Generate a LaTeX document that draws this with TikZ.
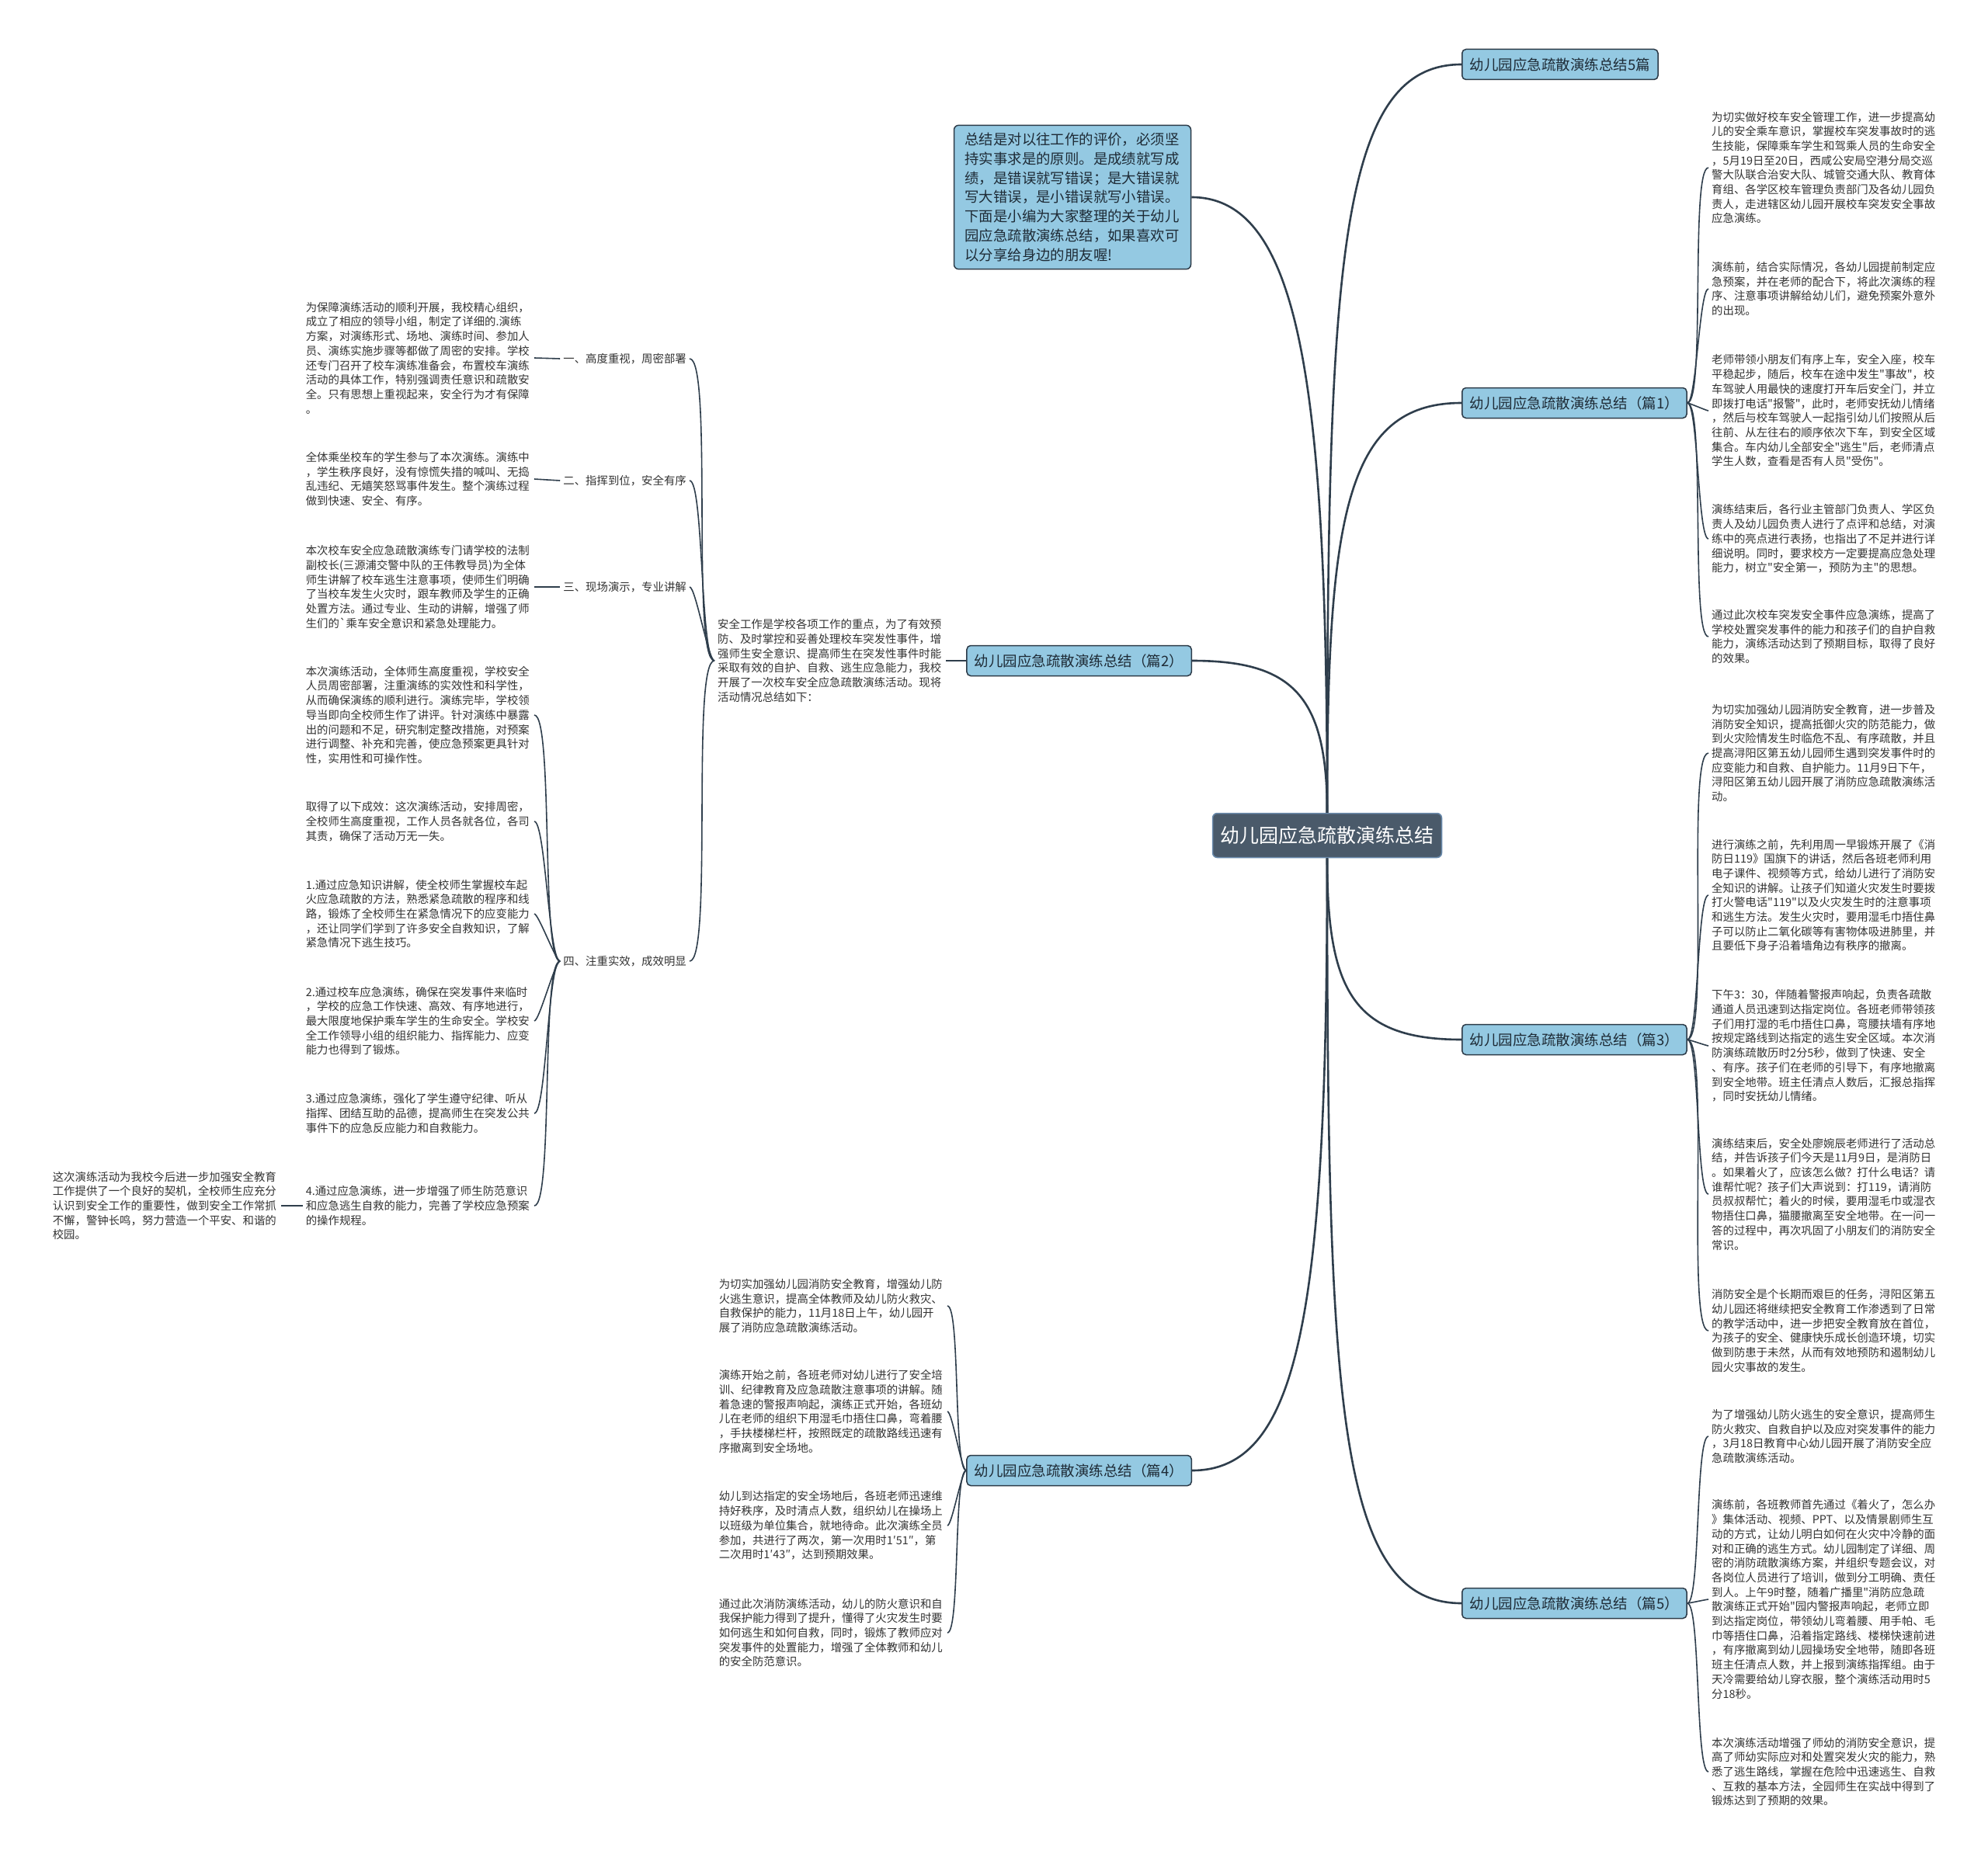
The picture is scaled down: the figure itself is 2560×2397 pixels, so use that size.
\documentclass[tikz,border=0pt]{standalone}
\usepackage{fontspec}
\newfontfamily\cjk{Noto Sans CJK SC}
\definecolor{linec}{HTML}{2F3E4C}
\definecolor{boxfill}{HTML}{94C9E2}
\definecolor{boxborder}{HTML}{2C3A47}
\definecolor{boxtext}{HTML}{1E2B36}
\definecolor{centerfill}{HTML}{4A5A6A}
\definecolor{centerborder}{HTML}{6B8CAE}
\definecolor{leaftext}{HTML}{333333}
\tikzset{
  conn/.style={draw=linec, line width=2.6pt},
  leafconn/.style={draw=linec, line width=1.6pt},
  leaf/.style={font=\cjk\fontsize{14.4}{18.7}\selectfont, text=leaftext, align=left, text width=290pt, inner xsep=4pt, inner ysep=2pt},
  rleaf/.style={leaf, anchor=west},
  lleaf/.style={leaf, anchor=east},
  lab/.style={font=\cjk\fontsize{14.4}{18.7}\selectfont, text=leaftext, anchor=east, inner xsep=4pt, inner ysep=2pt},
  branch/.style={draw=boxborder, line width=1.5pt, fill=boxfill, rounded corners=5pt, font=\cjk\fontsize{18.5}{22}\selectfont, text=boxtext, minimum height=39pt, inner xsep=10pt},
  central/.style={draw=centerborder, line width=1.5pt, fill=centerfill, rounded corners=6pt, font=\cjk\fontsize{25}{30}\selectfont, text=white, minimum width=295pt, minimum height=57pt},
  introbox/.style={draw=boxborder, line width=1.5pt, fill=boxfill, rounded corners=6pt, font=\cjk\fontsize{18.4}{24.7}\selectfont, text=boxtext, align=left, text width=277pt, inner xsep=14pt, inner ysep=10pt}
}
\begin{document}
\begin{tikzpicture}[x=1pt,y=-1pt]
\useasboundingbox[fill=white] (0,0) rectangle (2560,2397);

% central and branches
\node[central] (c) at (1709,1076) {幼儿园应急疏散演练总结};
\node[introbox] (intro) at (1381,254) {总结是对以往工作的评价，必须坚\\持实事求是的原则。是成绩就写成\\绩，是错误就写错误；是大错误就\\写大错误，是小错误就写小错误。\\下面是小编为大家整理的关于幼儿\\园应急疏散演练总结，如果喜欢可\\以分享给身边的朋友喔!};
\node[branch, anchor=west] (b0) at (1882,83) {幼儿园应急疏散演练总结5篇};
\node[branch, anchor=west] (b1) at (1882,519) {幼儿园应急疏散演练总结（篇1）};
\node[branch, anchor=east] (b2) at (1535,851) {幼儿园应急疏散演练总结（篇2）};
\node[branch, anchor=west] (b3) at (1882,1339) {幼儿园应急疏散演练总结（篇3）};
\node[branch, anchor=east] (b4) at (1535,1894) {幼儿园应急疏散演练总结（篇4）};
\node[branch, anchor=west] (b5) at (1882,2065) {幼儿园应急疏散演练总结（篇5）};

\draw[conn] (c.north) .. controls +(0,-700) and +(-160,0) .. (b0.west);
\draw[conn] (c.north) .. controls +(0,-550) and +(140,0) .. (intro.east);
\draw[conn] (c.north) .. controls +(0,-380) and +(-150,0) .. (b1.west);
\draw[conn] (c.north) .. controls +(0,-150) and +(130,0) .. (b2.east);
\draw[conn] (c.south) .. controls +(0,170) and +(-140,0) .. (b3.west);
\draw[conn] (c.south) .. controls +(0,580) and +(140,0) .. (b4.east);
\draw[conn] (c.south) .. controls +(0,700) and +(-160,0) .. (b5.west);

% Part 1 leaves
\node[rleaf] (r11) at (2200,216) {为切实做好校车安全管理工作，进一步提高幼\\儿的安全乘车意识，掌握校车突发事故时的逃\\生技能，保障乘车学生和驾乘人员的生命安全\\，5月19日至20日，西咸公安局空港分局交巡\\警大队联合治安大队、城管交通大队、教育体\\育组、各学区校车管理负责部门及各幼儿园负\\责人，走进辖区幼儿园开展校车突发安全事故\\应急演练。};
\node[rleaf] (r12) at (2200,372) {演练前，结合实际情况，各幼儿园提前制定应\\急预案，并在老师的配合下，将此次演练的程\\序、注意事项讲解给幼儿们，避免预案外意外\\的出现。};
\node[rleaf] (r13) at (2200,529) {老师带领小朋友们有序上车，安全入座，校车\\平稳起步，随后，校车在途中发生"事故"，校\\车驾驶人用最快的速度打开车后安全门，并立\\即拨打电话"报警"，此时，老师安抚幼儿情绪\\，然后与校车驾驶人一起指引幼儿们按照从后\\往前、从左往右的顺序依次下车，到安全区域\\集合。车内幼儿全部安全"逃生"后，老师清点\\学生人数，查看是否有人员"受伤"。};
\node[rleaf] (r14) at (2200,694) {演练结束后，各行业主管部门负责人、学区负\\责人及幼儿园负责人进行了点评和总结，对演\\练中的亮点进行表扬，也指出了不足并进行详\\细说明。同时，要求校方一定要提高应急处理\\能力，树立"安全第一，预防为主"的思想。};
\node[rleaf] (r15) at (2200,820) {通过此次校车突发安全事件应急演练，提高了\\学校处置突发事件的能力和孩子们的自护自救\\能力，演练活动达到了预期目标，取得了良好\\的效果。};
\foreach \n in {r11,r12,r13,r14,r15} \draw[leafconn] (b1.east) to[out=0,in=180,looseness=0.2] (\n.west);

% Part 3 leaves
\node[rleaf] (r31) at (2200,970) {为切实加强幼儿园消防安全教育，进一步普及\\消防安全知识，提高抵御火灾的防范能力，做\\到火灾险情发生时临危不乱、有序疏散，并且\\提高浔阳区第五幼儿园师生遇到突发事件时的\\应变能力和自救、自护能力。11月9日下午，\\浔阳区第五幼儿园开展了消防应急疏散演练活\\动。};
\node[rleaf] (r32) at (2200,1153) {进行演练之前，先利用周一早锻炼开展了《消\\防日119》国旗下的讲话，然后各班老师利用\\电子课件、视频等方式，给幼儿进行了消防安\\全知识的讲解。让孩子们知道火灾发生时要拨\\打火警电话"119"以及火灾发生时的注意事项\\和逃生方法。发生火灾时，要用湿毛巾捂住鼻\\子可以防止二氧化碳等有害物体吸进肺里，并\\且要低下身子沿着墙角边有秩序的撤离。};
\node[rleaf] (r33) at (2200,1347) {下午3：30，伴随着警报声响起，负责各疏散\\通道人员迅速到达指定岗位。各班老师带领孩\\子们用打湿的毛巾捂住口鼻，弯腰扶墙有序地\\按规定路线到达指定的逃生安全区域。本次消\\防演练疏散历时2分5秒，做到了快速、安全\\、有序。孩子们在老师的引导下，有序地撤离\\到安全地带。班主任清点人数后，汇报总指挥\\，同时安抚幼儿情绪。};
\node[rleaf] (r34) at (2200,1538) {演练结束后，安全处廖婉辰老师进行了活动总\\结，并告诉孩子们今天是11月9日，是消防日\\。如果着火了，应该怎么做？打什么电话？请\\谁帮忙呢？孩子们大声说到：打119，请消防\\员叔叔帮忙；着火的时候，要用湿毛巾或湿衣\\物捂住口鼻，猫腰撤离至安全地带。在一问一\\答的过程中，再次巩固了小朋友们的消防安全\\常识。};
\node[rleaf] (r35) at (2200,1714) {消防安全是个长期而艰巨的任务，浔阳区第五\\幼儿园还将继续把安全教育工作渗透到了日常\\的教学活动中，进一步把安全教育放在首位，\\为孩子的安全、健康快乐成长创造环境，切实\\做到防患于未然，从而有效地预防和遏制幼儿\\园火灾事故的发生。};
\foreach \n in {r31,r32,r33,r34,r35} \draw[leafconn] (b3.east) to[out=0,in=180,looseness=0.2] (\n.west);

% Part 5 leaves
\node[rleaf] (r51) at (2200,1850) {为了增强幼儿防火逃生的安全意识，提高师生\\防火救灾、自救自护以及应对突发事件的能力\\，3月18日教育中心幼儿园开展了消防安全应\\急疏散演练活动。};
\node[rleaf] (r52) at (2200,2060) {演练前，各班教师首先通过《着火了，怎么办\\》集体活动、视频、PPT、以及情景剧师生互\\动的方式，让幼儿明白如何在火灾中冷静的面\\对和正确的逃生方式。幼儿园制定了详细、周\\密的消防疏散演练方案，并组织专题会议，对\\各岗位人员进行了培训，做到分工明确、责任\\到人。上午9时整，随着广播里"消防应急疏\\散演练正式开始"园内警报声响起，老师立即\\到达指定岗位，带领幼儿弯着腰、用手帕、毛\\巾等捂住口鼻，沿着指定路线、楼梯快速前进\\，有序撤离到幼儿园操场安全地带，随即各班\\班主任清点人数，并上报到演练指挥组。由于\\天冷需要给幼儿穿衣服，整个演练活动用时5\\分18秒。};
\node[rleaf] (r53) at (2200,2282) {本次演练活动增强了师幼的消防安全意识，提\\高了师幼实际应对和处置突发火灾的能力，熟\\悉了逃生路线，掌握在危险中迅速逃生、自救\\、互救的基本方法，全园师生在实战中得到了\\锻炼达到了预期的效果。};
\foreach \n in {r51,r52,r53} \draw[leafconn] (b5.east) to[out=0,in=180,looseness=0.2] (\n.west);

% Part 2
\node[leaf, anchor=west] (p2) at (920,851) {安全工作是学校各项工作的重点，为了有效预\\防、及时掌控和妥善处理校车突发性事件，增\\强师生安全意识、提高师生在突发性事件时能\\采取有效的自护、自救、逃生应急能力，我校\\开展了一次校车安全应急疏散演练活动。现将\\活动情况总结如下：};
\draw[leafconn] (p2.east) -- (b2.west);
\node[lab] (l1) at (888,462) {一、高度重视，周密部署};
\node[lab] (l2) at (888,619) {二、指挥到位，安全有序};
\node[lab] (l3) at (888,756) {三、现场演示，专业讲解};
\node[lab] (l4) at (888,1238) {四、注重实效，成效明显};
\foreach \n in {l1,l2,l3,l4} \draw[leafconn] (p2.west) to[out=180,in=0,looseness=0.2] (\n.east);

\node[lleaf] (m1) at (688,461) {为保障演练活动的顺利开展，我校精心组织，\\成立了相应的领导小组，制定了详细的.演练\\方案，对演练形式、场地、演练时间、参加人\\员、演练实施步骤等都做了周密的安排。学校\\还专门召开了校车演练准备会，布置校车演练\\活动的具体工作，特别强调责任意识和疏散安\\全。只有思想上重视起来，安全行为才有保障\\。};
\node[lleaf] (m2) at (688,617) {全体乘坐校车的学生参与了本次演练。演练中\\，学生秩序良好，没有惊慌失措的喊叫、无捣\\乱违纪、无嬉笑怒骂事件发生。整个演练过程\\做到快速、安全、有序。};
\node[lleaf] (m3) at (688,756) {本次校车安全应急疏散演练专门请学校的法制\\副校长(三源浦交警中队的王伟教导员)为全体\\师生讲解了校车逃生注意事项，使师生们明确\\了当校车发生火灾时，跟车教师及学生的正确\\处置方法。通过专业、生动的讲解，增强了师\\生们的`乘车安全意识和紧急处理能力。};
\draw[leafconn] (m1.east) -- (l1.west);
\draw[leafconn] (m2.east) -- (l2.west);
\draw[leafconn] (m3.east) -- (l3.west);

\node[lleaf] (n1) at (688,921) {本次演练活动，全体师生高度重视，学校安全\\人员周密部署，注重演练的实效性和科学性，\\从而确保演练的顺利进行。演练完毕，学校领\\导当即向全校师生作了讲评。针对演练中暴露\\出的问题和不足，研究制定整改措施，对预案\\进行调整、补充和完善，使应急预案更具针对\\性，实用性和可操作性。};
\node[lleaf] (n2) at (688,1058) {取得了以下成效：这次演练活动，安排周密，\\全校师生高度重视，工作人员各就各位，各司\\其责，确保了活动万无一失。};
\node[lleaf] (n3) at (688,1177) {1.通过应急知识讲解，使全校师生掌握校车起\\火应急疏散的方法，熟悉紧急疏散的程序和线\\路，锻炼了全校师生在紧急情况下的应变能力\\，还让同学们学到了许多安全自救知识，了解\\紧急情况下逃生技巧。};
\node[lleaf] (n4) at (688,1315) {2.通过校车应急演练，确保在突发事件来临时\\，学校的应急工作快速、高效、有序地进行，\\最大限度地保护乘车学生的生命安全。学校安\\全工作领导小组的组织能力、指挥能力、应变\\能力也得到了锻炼。};
\node[lleaf] (n5) at (688,1434) {3.通过应急演练，强化了学生遵守纪律、听从\\指挥、团结互助的品德，提高师生在突发公共\\事件下的应急反应能力和自救能力。};
\node[lleaf] (n6) at (688,1553) {4.通过应急演练，进一步增强了师生防范意识\\和应急逃生自救的能力，完善了学校应急预案\\的操作规程。};
\foreach \n in {n1,n2,n3,n4,n5,n6} \draw[leafconn] (l4.west) to[out=180,in=0,looseness=0.2] (\n.east);
\node[lleaf] (n7) at (362,1553) {这次演练活动为我校今后进一步加强安全教育\\工作提供了一个良好的契机，全校师生应充分\\认识到安全工作的重要性，做到安全工作常抓\\不懈，警钟长鸣，努力营造一个平安、和谐的\\校园。};
\draw[leafconn] (n6.west) -- (n7.east);

% Part 4 leaves
\node[lleaf] (q1) at (1220,1682) {为切实加强幼儿园消防安全教育，增强幼儿防\\火逃生意识，提高全体教师及幼儿防火救灾、\\自救保护的能力，11月18日上午，幼儿园开\\展了消防应急疏散演练活动。};
\node[lleaf] (q2) at (1220,1818) {演练开始之前，各班老师对幼儿进行了安全培\\训、纪律教育及应急疏散注意事项的讲解。随\\着急速的警报声响起，演练正式开始，各班幼\\儿在老师的组织下用湿毛巾捂住口鼻，弯着腰\\，手扶楼梯栏杆，按照既定的疏散路线迅速有\\序撤离到安全场地。};
\node[lleaf] (q3) at (1220,1965) {幼儿到达指定的安全场地后，各班老师迅速维\\持好秩序，及时清点人数，组织幼儿在操场上\\以班级为单位集合，就地待命。此次演练全员\\参加，共进行了两次，第一次用时1′51″，第\\二次用时1′43″，达到预期效果。};
\node[lleaf] (q4) at (1220,2103) {通过此次消防演练活动，幼儿的防火意识和自\\我保护能力得到了提升，懂得了火灾发生时要\\如何逃生和如何自救，同时，锻炼了教师应对\\突发事件的处置能力，增强了全体教师和幼儿\\的安全防范意识。};
\foreach \n in {q1,q2,q3,q4} \draw[leafconn] (b4.west) to[out=180,in=0,looseness=0.2] (\n.east);
\end{tikzpicture}
\end{document}
